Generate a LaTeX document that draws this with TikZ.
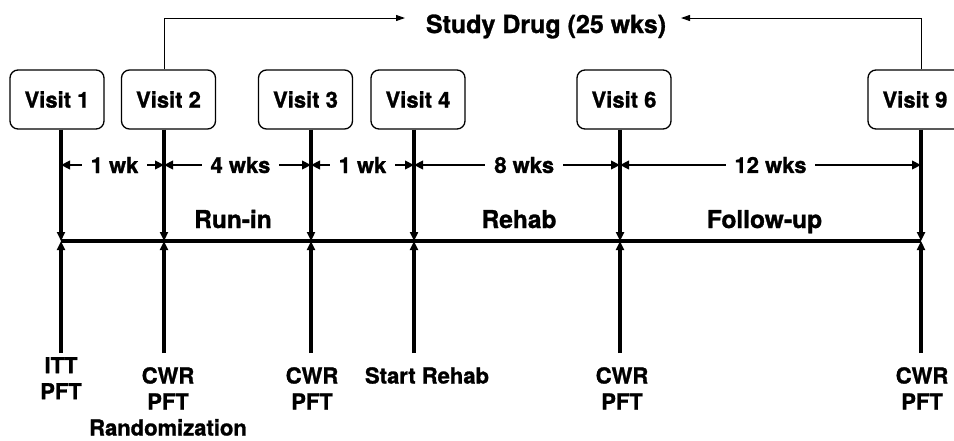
\documentclass[tikz,border=0pt]{standalone}
\usepackage{fontspec}
\setmainfont{TeX Gyre Heros}[BoldFeatures={FakeBold=1.2}]
\usetikzlibrary{arrows.meta}
\begin{document}
\begin{tikzpicture}[x=1pt,y=-1pt,
  every node/.style={font=\bfseries\fontsize{22}{26}\selectfont, inner sep=0pt},
  visitbox/.style={draw, line width=1.3pt, rounded corners=8pt, minimum width=94pt, minimum height=59pt},
  thin arrow/.style={line width=1pt, -{Triangle[length=9pt,width=6pt]}},
  dur/.style={line width=2.4pt, {Triangle[length=9pt,width=8.5pt]}-{Triangle[length=9pt,width=8.5pt]}},
  durlabel/.style={fill=white, inner xsep=9pt, inner ysep=2pt},
  stem/.style={line width=3.4pt, -{Triangle[length=9pt,width=8pt]}},
  phase/.style={font=\bfseries\fontsize{24.5}{28}\selectfont, anchor=base},
  result/.style={anchor=north, align=center}]
\useasboundingbox (0,0) rectangle (954,440);
\fill[white] (0,0) rectangle (954,440);

% visit boxes
\node[visitbox] (v1) at (57,99.5) {Visit 1};
\node[visitbox] (v2) at (168.5,99.5) {Visit 2};
\node[visitbox] (v3) at (305.5,99.5) {Visit 3};
\node[visitbox] (v4) at (418,99.5) {Visit 4};
\node[visitbox] (v6) at (624,99.5) {Visit 6};
\node[visitbox] (v9) at (915,99.5) {Visit 9};

% study drug
\node[font=\bfseries\fontsize{25}{28}\selectfont, anchor=base] (drug) at (546,33) {Study Drug (25 wks)};
\coordinate (c2) at (164,18);
\coordinate (c9) at (921,18);
\coordinate (dl) at (405,18);
\coordinate (dr) at (681,18);
\draw[thin arrow] (v2.north -| c2) -- (c2) -- (dl);
\draw[thin arrow] (v9.north -| c9) -- (c9) -- (dr);

% timeline points
\coordinate (t1) at (61,241);
\coordinate (t2) at (164,241);
\coordinate (t3) at (311,241);
\coordinate (t4) at (414,241);
\coordinate (t6) at (620,241);
\coordinate (t9) at (921,241);
\coordinate (b1) at (61,353);
\coordinate (b2) at (164,353);
\coordinate (b3) at (311,353);
\coordinate (b4) at (414,353);
\coordinate (b6) at (620,353);
\coordinate (b9) at (921,353);

% main line
\draw[line width=4pt] (t1) -- (t9);

% stems from boxes and from results
\foreach \i in {1,2,3,4,6,9} {
  \draw[stem] (v\i.south -| t\i) -- (t\i);
  \draw[stem] (b\i) -- (t\i);
}

% durations
\coordinate (d1) at (61,165);
\coordinate (d2) at (164,165);
\coordinate (d3) at (311,165);
\coordinate (d4) at (414,165);
\coordinate (d6) at (620,165);
\coordinate (d9) at (921,165);
\draw[dur] (d1) -- (d2) node[durlabel, pos=0.52] (w1) {1 wk};
\draw[dur] (d2) -- (d3) node[durlabel, pos=0.52] (w2) {4 wks};
\draw[dur] (d3) -- (d4) node[durlabel, pos=0.5] (w3) {1 wk};
\draw[dur] (d4) -- (d6) node[durlabel, pos=0.535] (w4) {8 wks};
\draw[dur] (d6) -- (d9) node[durlabel, pos=0.5] (w5) {12 wks};

% phases
\node[phase] (runin) at (233,228) {Run-in};
\node[phase] (rehab) at (519,228) {Rehab};
\node[phase] (follow) at (764.5,228) {Follow-up};

% results
\node[result] (r1) at (61,357) {ITT\\PFT};
\node[result] (r2) at (168,367) {CWR\\PFT\\Randomization};
\node[result] (r3) at (312,367) {CWR\\PFT};
\node[result] (r4) at (427,367) {Start Rehab};
\node[result] (r6) at (622,367) {CWR\\PFT};
\node[result] (r9) at (922,367) {CWR\\PFT};
\end{tikzpicture}
\end{document}
